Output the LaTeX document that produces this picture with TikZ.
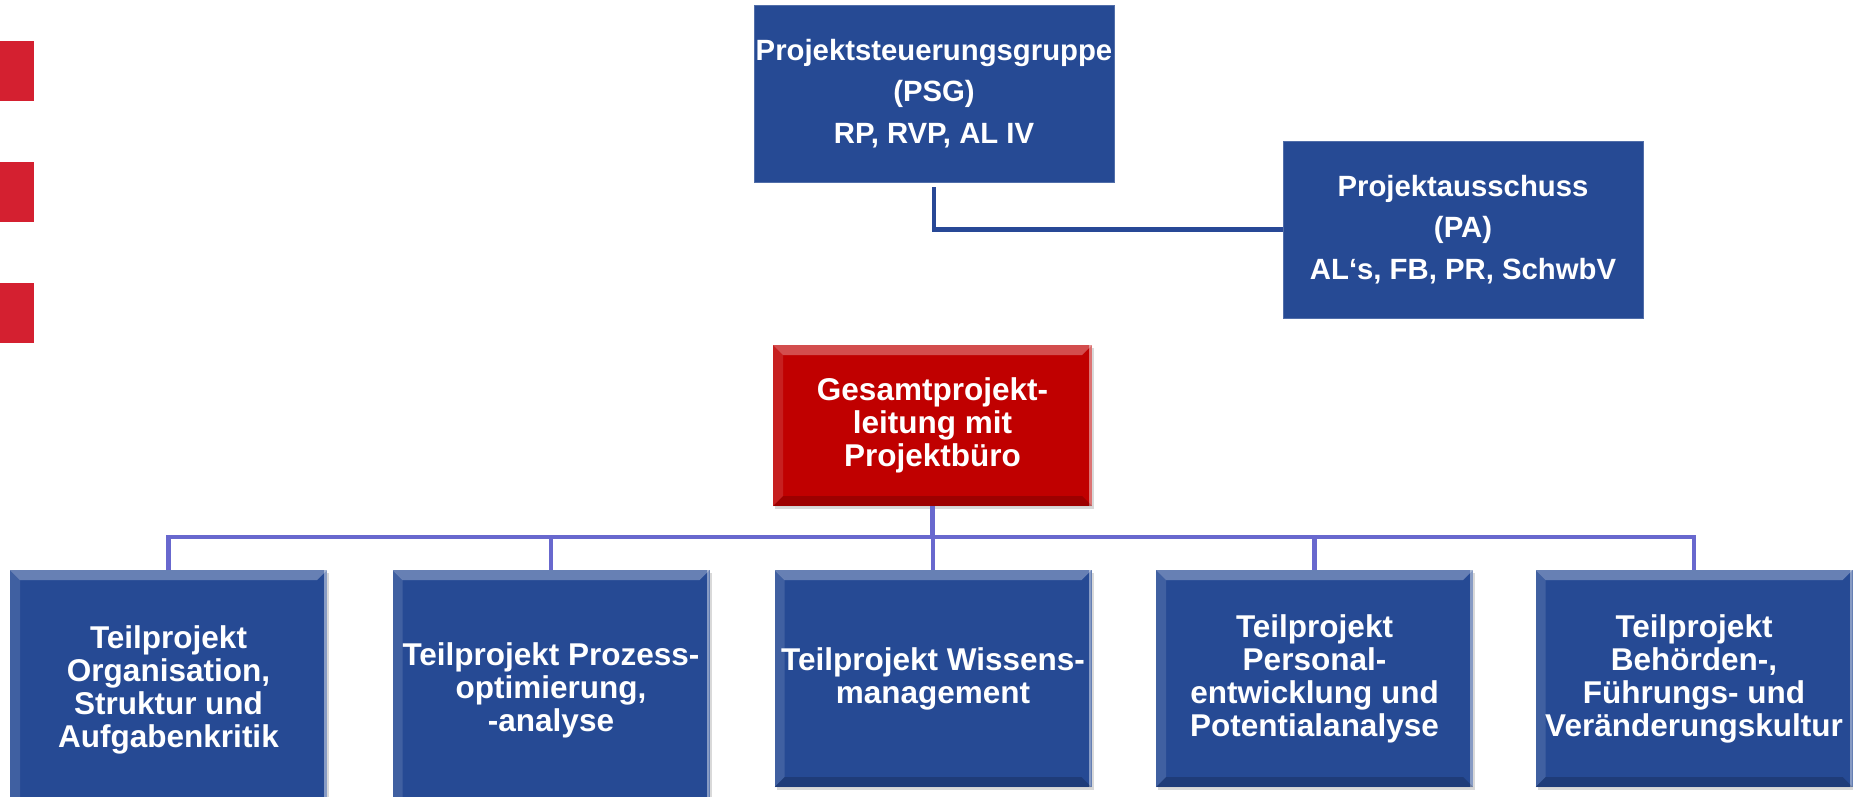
\documentclass[tikz,border=0pt]{standalone}
\usepackage{fontspec}
\setmainfont{Liberation Sans}
\usepackage{tikz}
\usetikzlibrary{positioning,shadows}
\definecolor{orgblue}{RGB}{38,74,148}
\definecolor{orgred}{RGB}{192,0,0}
\definecolor{markred}{RGB}{212,32,48}
\definecolor{busline}{RGB}{104,104,206}
\definecolor{linkline}{RGB}{40,72,150}
\tikzset{
  bevel/.style={path picture={
    \fill[white,opacity=0.30] (path picture bounding box.north west) -- (path picture bounding box.north east)
      -- ([shift={(-10pt,-10pt)}]path picture bounding box.north east) -- ([shift={(10pt,-10pt)}]path picture bounding box.north west) -- cycle;
    \fill[white,opacity=0.12] (path picture bounding box.north west) -- ([shift={(10pt,-10pt)}]path picture bounding box.north west)
      -- ([shift={(10pt,10pt)}]path picture bounding box.south west) -- (path picture bounding box.south west) -- cycle;
    \fill[white,opacity=0.45] (path picture bounding box.north east) -- (path picture bounding box.south east)
      -- ([xshift=-3pt]path picture bounding box.south east) -- ([xshift=-3pt]path picture bounding box.north east) -- cycle;
    \fill[black,opacity=0.18] (path picture bounding box.south west) -- (path picture bounding box.south east)
      -- ([shift={(-10pt,10pt)}]path picture bounding box.south east) -- ([shift={(10pt,10pt)}]path picture bounding box.south west) -- cycle;
  }},
  boardbox/.style={fill=orgblue, draw=orgblue!80!white, line width=0.8pt, inner sep=0pt, align=center, text=white,
    font=\fontsize{29.3}{41.5}\selectfont\bfseries},
  leadbox/.style={fill=orgred, inner sep=0pt, align=center, text=white, bevel,
    drop shadow={opacity=0.3, shadow xshift=2pt, shadow yshift=-3pt},
    minimum width=319pt, minimum height=161pt, font=\fontsize{31.5}{33}\selectfont\bfseries},
  subbox/.style={fill=orgblue, inner sep=0pt, align=center, text=white, bevel,
    drop shadow={opacity=0.3, shadow xshift=2pt, shadow yshift=-3pt},
    minimum width=317pt, font=\fontsize{31.5}{33}\selectfont\bfseries},
  link/.style={draw=linkline, line width=4.5pt},
  bus/.style={draw=busline, line width=4.5pt}
}
\begin{document}
\begin{tikzpicture}[x=1pt,y=-1pt]
  \useasboundingbox (0,0) rectangle (1853,796);
  \foreach \y in {41,162,283} {
    \fill[markred] (0,\y) rectangle (34,\y+60);
  }

  \node[boardbox, minimum width=360pt, minimum height=177pt] (psg) at (934,93.5)
    {Projektsteuerungsgruppe\\(PSG)\\RP, RVP, AL IV};
  \node[boardbox, minimum width=360pt, minimum height=177pt] (pa) at (1463,229.5)
    {Projektausschuss\\(PA)\\AL‘s, FB, PR, SchwbV};
  \draw[link] ([yshift=-5pt]psg.south) |- (pa.west);

  \node[leadbox] (gpl) at (932.5,425.5) {Gesamtprojekt-\\leitung mit\\Projektbüro};

  \node[subbox, minimum height=240pt] (tp1) at (168.5,690) {Teilprojekt\\Organisation,\\Struktur und\\Aufgabenkritik};
  \node[subbox, minimum height=240pt] (tp2) at (551,690) {Teilprojekt Prozess-\\optimierung,\\-analyse};
  \node[subbox, minimum height=217pt] (tp3) at (933,678.5) {Teilprojekt Wissens-\\management};
  \node[subbox, minimum height=217pt] (tp4) at (1314.5,678.5) {Teilprojekt\\Personal-\\entwicklung und\\Potentialanalyse};
  \node[subbox, minimum height=217pt] (tp5) at (1694,678.5) {Teilprojekt\\Behörden-,\\Führungs- und\\Veränderungskultur};

  \coordinate (bus) at (932.5,537);
  \draw[bus] (gpl.south) -- (bus);
  \foreach \t in {tp1,tp2,tp3,tp4,tp5} {
    \draw[bus] (bus) -| (\t.north);
  }
\end{tikzpicture}
\end{document}
